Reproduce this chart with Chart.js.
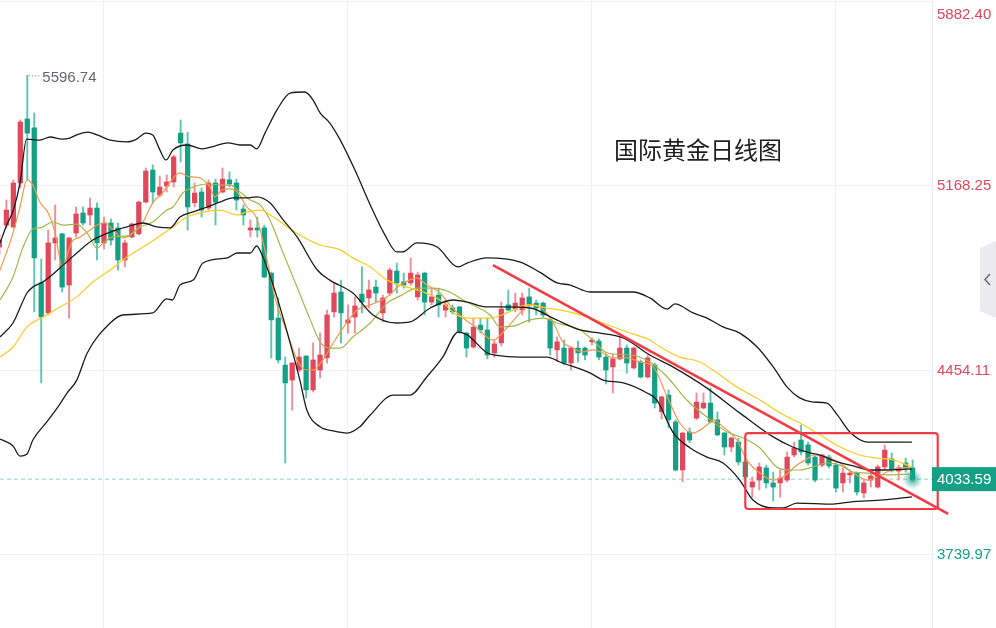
<!DOCTYPE html>
<html>
<head>
<meta charset="utf-8">
<script src="https://cdn.jsdelivr.net/npm/chart.js@4.4.0/dist/chart.umd.min.js"></script>
<style>
  html, body { margin: 0; padding: 0; background: #fff; }
  #wrap { position: relative; width: 996px; height: 628px; }
</style>
</head>
<body>
<div id="wrap"><canvas id="goldChart"></canvas></div>
<script>
// daily candles, one entry per trading day (index = position on the x axis)
const opens  = [4932,5017,5010,5180,5428,5393,4793,4677,4948,4983,4785,4986,5064,5056,5083,4948,5025,5006,4882,4971,
                4983,5106,5230,5133,5168,5184,5373,5331,5103,5145,5083,5180,5145,5192,5180,5079,4998,5006,5006,4831,
                4657,4475,4417,4456,4510,4379,4456,4503,4681,4758,4638,4661,4750,4735,4777,4677,4754,4839,4797,4793,
                4739,4831,4719,4746,4688,4696,4700,4599,4545,4630,4611,4522,4561,4708,4692,4688,4739,4715,4715,4650,
                4534,4541,4483,4541,4541,4565,4568,4506,4468,4499,4541,4464,4487,4429,4475,4294,4359,4255,4069,4216,
                4270,4309,4328,4263,4212,4158,4177,4100,4003,4030,4077,4019,4019,4030,4127,4185,4166,4119,4088,4119,
                4088,4019,4050,4057,3980,4030,4003,4081,4112,4065,4096,4077];
const highs  = [4979,5114,5192,5424,5596.74,5451,4886,4998,5095,4986,4970,5087,5087,5122,5103,5048,5041,5025,4959,5025,
                5110,5238,5250,5207,5211,5288,5424,5377,5180,5161,5192,5195,5238,5223,5195,5095,5037,5048,5017,4835,
                4735,4506,4485,4541,4512,4561,4599,4688,4793,4804,4708,4739,4855,4804,4804,4746,4851,4870,4831,4889,
                4835,4835,4773,4773,4727,4708,4703,4603,4657,4657,4657,4572,4719,4766,4754,4754,4773,4727,4719,4657,
                4584,4572,4545,4568,4545,4580,4576,4518,4518,4584,4553,4545,4495,4514,4483,4355,4379,4263,4216,4232,
                4367,4367,4386,4294,4215,4196,4193,4103,4042,4096,4088,4061,4069,4139,4177,4243,4177,4123,4130,4127,
                4096,4077,4069,4061,4030,4054,4088,4166,4135,4088,4115,4108];
const lows   = [4901,5006,5006,5161,5192,4681,4406,4669,4882,4758,4657,4971,5017,5017,4882,4924,4940,4843,4855,4967,
                4979,5103,5103,5126,5145,5164,5261,4998,5087,5048,5075,5017,5141,5164,5075,5017,4971,4971,4812,4502,
                4483,4096,4301,4450,4348,4371,4425,4483,4661,4561,4599,4599,4677,4696,4719,4642,4746,4754,4773,4785,
                4727,4669,4708,4661,4661,4673,4599,4506,4541,4599,4499,4506,4549,4685,4681,4669,4642,4669,4661,4514,
                4495,4476,4456,4487,4495,4553,4495,4402,4367,4495,4444,4460,4425,4425,4309,4266,4232,4065,4023,4174,
                4263,4305,4251,4201,4127,4139,4088,4030,3964,3992,3999,3949,3964,4023,4119,4127,4088,4023,4081,4077,
                3984,3984,4019,3972,3961,4003,3999,4069,4061,4030,4061,4030];
const closes = [4959,5075,5180,5416,5373,4890,4661,4948,4967,4777,4967,5060,5025,5083,4948,5025,4959,4882,4948,5021,
                5106,5226,5145,5164,5184,5281,5335,5087,5141,5075,5180,5106,5195,5176,5114,5056,5006,4998,4816,4650,
                4495,4406,4483,4506,4379,4495,4514,4669,4754,4677,4650,4704,4719,4766,4754,4735,4843,4793,4785,4831,
                4824,4719,4739,4708,4708,4681,4603,4541,4622,4611,4514,4557,4692,4688,4715,4735,4708,4696,4669,4541,
                4565,4483,4541,4522,4514,4572,4506,4456,4499,4541,4483,4541,4429,4503,4328,4352,4263,4069,4212,4185,
                4332,4328,4255,4205,4158,4193,4100,4042,4023,4081,4019,4003,4038,4119,4154,4139,4096,4030,4127,4085,
                3999,4057,4057,3984,4019,4046,4081,4146,4069,4077,4077,4033.59];

// indicator lines: [day index, price]
const bollUpper = [[0.1,4948],[1.05,5017],[2.0,5075],[2.96,5180],[3.9,5350],[5.8,5346],[7.3,5358],[9.0,5350],[10.1,5354],
  [11.1,5366],[12.7,5377],[14.0,5366],[15.9,5346],[18.3,5339],[19.7,5350],[21.0,5373],[22.0,5366],[22.9,5315],[23.9,5269],
  [24.9,5308],[26.9,5327],[29.1,5312],[30.9,5323],[32.8,5335],[34.5,5327],[36.0,5327],[36.9,5312],[38.1,5373],[39.8,5462],
  [41.7,5528],[43.8,5532],[45.0,5501],[46.0,5451],[47.4,5412],[48.9,5346],[51.0,5230],[53.2,5095],[55.3,4979],[57.0,4913],
  [57.8,4913],[59.9,4948],[62.8,4932],[65.8,4855],[67.1,4870],[69.9,4890],[74.7,4874],[77.5,4835],[80.0,4793],[81.9,4785],
  [84.7,4758],[86.2,4758],[90.9,4758],[93.3,4735],[95.8,4692],[96.9,4712],[99.5,4677],[101.5,4657],[103.8,4623],[106.2,4599],
  [108.7,4545],[111.0,4468],[113.0,4390],[114.8,4348],[116.7,4332],[118.7,4328],[120.2,4282],[122.0,4216],[124.5,4177],
  [126.3,4177],[130.9,4177]];
const bollMid = [[0.1,4584],[1.95,4638],[3.96,4754],[4.8,4777],[6.25,4797],[8.7,4851],[11.1,4909],[13.4,4959],[15.9,4990],
  [18.3,5010],[20.6,5025],[22.6,5010],[24.5,5006],[25.9,5048],[27.8,5068],[29.8,5087],[31.6,5106],[33.5,5122],[35.5,5122],
  [36.9,5126],[38.8,5103],[40.7,5037],[42.7,4971],[45.6,4843],[47.4,4804],[50.7,4754],[53.6,4669],[57.0,4638],[58.9,4642],
  [61.8,4696],[65.1,4727],[67.1,4719],[70.0,4700],[71.8,4700],[76.1,4696],[79.4,4657],[83.3,4611],[86.2,4599],[89.5,4580],
  [93.3,4514],[96.6,4468],[101.5,4386],[106.2,4290],[111.0,4197],[113.8,4158],[116.3,4135],[117.7,4127],[120.2,4100],
  [122.5,4085],[124.9,4069],[126.8,4069],[130.9,4073]];
const bollLower = [[0.1,4189],[1.95,4162],[2.96,4123],[3.96,4131],[4.8,4185],[6.8,4255],[8.3,4309],[9.7,4367],[11.1,4417],
  [12.6,4522],[15.9,4638],[17.7,4669],[22.0,4677],[24.0,4731],[24.8,4727],[25.9,4785],[27.8,4804],[29.2,4870],[32.7,4890],
  [34.1,4909],[36.0,4909],[36.9,4936],[37.8,4893],[39.8,4739],[41.7,4561],[43.1,4417],[44.1,4301],[46.0,4236],[47.9,4220],
  [49.9,4212],[51.7,4236],[53.2,4282],[56.5,4359],[58.9,4359],[61.3,4429],[63.6,4506],[65.8,4603],[67.1,4592],[70.0,4522],
  [71.1,4514],[74.7,4506],[78.6,4506],[80.4,4487],[84.7,4445],[86.6,4417],[89.5,4406],[92.9,4367],[94.3,4340],[96.6,4216],
  [99.1,4154],[101.5,4119],[103.8,4096],[106.2,4030],[108.1,3953],[111.0,3922],[112.4,3922],[114.4,3941],[119.6,3937],
  [122.0,3945],[126.8,3953],[130.9,3965]];
const ma5 = [[0.1,4843],[1.95,4986],[2.96,5087],[3.96,5192],[4.8,5172],[5.8,5106],[7.0,5064],[8.0,4986],[9.0,4855],
  [10.4,4952],[11.6,4971],[13.0,4998],[14.0,5017],[15.2,5025],[16.3,4998],[17.7,4967],[19.2,4986],[20.6,5029],[22.0,5103],
  [23.5,5145],[24.5,5184],[25.9,5219],[26.9,5207],[27.8,5203],[28.8,5199],[30.2,5164],[30.9,5126],[31.9,5153],[33.1,5157],
  [34.1,5145],[35.5,5087],[36.9,5044],[38.4,4882],[39.5,4739],[41.3,4599],[42.7,4495],[44.1,4456],[45.0,4456],[46.4,4495],
  [47.9,4561],[49.9,4642],[51.3,4688],[53.2,4708],[55.6,4739],[57.5,4785],[59.9,4812],[61.3,4785],[63.2,4754],[64.6,4708],
  [66.5,4657],[68.5,4619],[70.8,4572],[72.8,4619],[74.7,4677],[76.1,4708],[77.5,4700],[79.4,4642],[80.8,4565],[82.3,4541],
  [83.7,4526],[85.1,4534],[86.6,4522],[88.0,4503],[90.0,4503],[91.9,4487],[93.8,4468],[95.8,4352],[97.6,4251],[99.5,4212],
  [101.5,4243],[102.4,4263],[103.8,4236],[105.8,4185],[107.2,4108],[109.1,4057],[111.0,4030],[112.4,4042],[114.4,4088],
  [116.3,4119],[116.7,4127],[118.7,4119],[120.6,4096],[122.5,4057],[124.5,4030],[125.9,4042],[127.3,4061],[129.2,4077],
  [130.9,4077]];
const ma10 = [[0.1,4727],[1.95,4816],[3.4,4932],[4.8,5002],[5.8,5006],[7.7,5029],[9.1,5017],[11.1,5021],[12.6,4986],
  [14.0,4928],[14.9,4948],[16.3,4971],[18.3,4975],[20.2,5010],[22.0,5029],[24.0,5075],[24.9,5087],[26.3,5141],[27.8,5164],
  [29.8,5176],[32.1,5172],[33.1,5172],[34.5,5145],[36.0,5114],[37.4,5095],[38.8,5037],[40.7,4909],[42.7,4777],[44.6,4650],
  [46.0,4565],[47.4,4541],[48.9,4541],[50.7,4584],[53.2,4638],[55.6,4715],[57.5,4743],[59.9,4773],[62.2,4773],[64.6,4758],
  [66.5,4727],[68.5,4700],[70.4,4669],[71.8,4623],[73.7,4626],[76.1,4650],[78.0,4657],[80.0,4638],[83.3,4611],[85.1,4572],
  [87.2,4522],[90.5,4514],[93.3,4487],[95.8,4429],[98.6,4340],[101.5,4274],[104.4,4216],[106.7,4193],[109.1,4154],
  [111.5,4081],[113.4,4069],[114.8,4069],[116.7,4081],[118.7,4096],[120.6,4088],[122.5,4061],[124.5,4057],[126.8,4050],
  [130.9,4054]];
const ma30 = [[0.1,4506],[1.95,4545],[3.96,4623],[6.25,4661],[8.7,4700],[11.1,4739],[13.4,4797],[15.9,4843],[18.3,4893],
  [20.6,4932],[22.6,4967],[24.9,5010],[26.9,5048],[28.8,5064],[31.6,5075],[34.1,5056],[35.5,5068],[37.4,5075],[39.3,5048],
  [41.3,5010],[43.6,4971],[46.0,4940],[48.9,4921],[50.7,4890],[53.2,4855],[55.6,4804],[58.5,4777],[60.8,4758],[63.2,4727],
  [65.6,4669],[67.5,4657],[70.4,4657],[72.8,4677],[75.7,4708],[78.6,4696],[82.3,4677],[86.2,4642],[90.0,4603],[93.3,4572],
  [94.8,4545],[97.6,4506],[100.5,4487],[102.9,4445],[105.8,4390],[109.1,4340],[112.0,4290],[114.8,4251],[117.7,4205],
  [120.6,4158],[123.4,4127],[125.9,4115],[128.2,4108],[130.9,4081]];

const priceTicks = [3739.97, 4454.11, 5168.25, 5882.40];
const dateLines = [15, 50, 85, 120];
const lastPrice = 4033.59;
const peakIndex = 4, peakPrice = 5596.74;
const trendLine = [[70.8, 4862], [136.1, 3899]];
const focusBox = [107.0, 134.6, 4212, 3918]; // from day, to day, top price, bottom price
const chartTitle = '国际黄金日线图';

const UP = '#e2485b', UP_WICK = '#ee8f9b', DOWN = '#13a085', DOWN_WICK = '#62c5b1';
const isUp = i => closes[i] >= opens[i];

const bodies = opens.map((o, i) => ({ x: i, y: [o, closes[i]] }));
const wicks = opens.map((o, i) => ({ x: i, y: [lows[i], highs[i]] }));
const pts = arr => arr.map(p => ({ x: p[0], y: p[1] }));

function lineSet(data, color, width) {
  return {
    type: 'line', data: pts(data), borderColor: color, borderWidth: width,
    pointRadius: 0, fill: false, cubicInterpolationMode: 'monotone', order: 0
  };
}

const overlay = {
  id: 'overlay',
  beforeDatasetsDraw(chart) {
    const { ctx, chartArea, scales: { y } } = chart;
    const py = y.getPixelForValue(lastPrice);
    ctx.save();
    ctx.strokeStyle = '#86d6c8';
    ctx.lineWidth = 1;
    ctx.setLineDash([4, 3]);
    ctx.beginPath();
    ctx.moveTo(chartArea.left, py);
    ctx.lineTo(chartArea.right, py);
    ctx.stroke();
    ctx.restore();
  },
  afterDraw(chart) {
    const { ctx, scales: { x, y } } = chart;
    ctx.save();

    // glow on the live candle
    const gx = x.getPixelForValue(closes.length - 1), gy = y.getPixelForValue(lastPrice);
    const g = ctx.createRadialGradient(gx, gy, 0, gx, gy, 10);
    g.addColorStop(0, 'rgba(19,160,133,0.95)');
    g.addColorStop(0.45, 'rgba(19,160,133,0.45)');
    g.addColorStop(1, 'rgba(19,160,133,0)');
    ctx.fillStyle = g;
    ctx.beginPath(); ctx.arc(gx, gy, 10, 0, Math.PI * 2); ctx.fill();

    // trend line and focus box
    ctx.strokeStyle = '#f23b45';
    ctx.lineWidth = 2.6;
    ctx.beginPath();
    ctx.moveTo(x.getPixelForValue(trendLine[0][0]), y.getPixelForValue(trendLine[0][1]));
    ctx.lineTo(x.getPixelForValue(trendLine[1][0]), y.getPixelForValue(trendLine[1][1]));
    ctx.stroke();
    const bx0 = x.getPixelForValue(focusBox[0]), bx1 = x.getPixelForValue(focusBox[1]);
    const by0 = y.getPixelForValue(focusBox[2]), by1 = y.getPixelForValue(focusBox[3]);
    ctx.lineWidth = 2.2;
    ctx.beginPath();
    ctx.roundRect(bx0, by0, bx1 - bx0, by1 - by0, 3);
    ctx.stroke();

    // title
    ctx.fillStyle = '#1f1f1f';
    ctx.font = '24px "Noto Sans CJK SC", sans-serif';
    ctx.textAlign = 'left';
    ctx.textBaseline = 'middle';
    ctx.fillText(chartTitle, 614, 150);

    // peak marker
    const px = x.getPixelForValue(peakIndex), py = y.getPixelForValue(peakPrice);
    ctx.strokeStyle = '#777a86';
    ctx.lineWidth = 1;
    ctx.setLineDash([1, 2]);
    ctx.beginPath(); ctx.moveTo(px + 2, py + 0.5); ctx.lineTo(px + 14, py + 0.5); ctx.stroke();
    ctx.setLineDash([]);
    ctx.fillStyle = '#62656f';
    ctx.font = '15px "Liberation Sans", Arial, sans-serif';
    ctx.fillText(peakPrice.toFixed(2), px + 15, py + 3);

    // top price label (pinned inside the canvas)
    ctx.fillStyle = UP;
    ctx.fillText(priceTicks[3].toFixed(2), y.left + 5, 15);

    // last price badge
    ctx.fillStyle = '#13a085';
    ctx.fillRect(y.left, gy - 12, 996 - y.left, 24);
    ctx.fillStyle = '#ffffff';
    ctx.fillText(lastPrice.toFixed(2), y.left + 5, gy + 1);

    // collapse tab on the right edge
    ctx.fillStyle = '#ebebef';
    ctx.beginPath();
    ctx.moveTo(996, 241); ctx.lineTo(980, 248); ctx.lineTo(980, 311); ctx.lineTo(996, 318);
    ctx.closePath(); ctx.fill();
    ctx.strokeStyle = '#6b6d78';
    ctx.lineWidth = 1.5;
    ctx.beginPath(); ctx.moveTo(990, 274); ctx.lineTo(985, 279.5); ctx.lineTo(990, 285); ctx.stroke();
    ctx.restore();
  }
};

window.onload = function () {
  const ctx = document.getElementById('goldChart').getContext('2d');
  new Chart(ctx, {
    type: 'bar',
    data: {
      datasets: [
        lineSet(bollUpper, '#1c1c1c', 1.3),
        lineSet(bollMid, '#1c1c1c', 1.3),
        lineSet(bollLower, '#1c1c1c', 1.3),
        lineSet(ma30, '#fbcb22', 1.2),
        lineSet(ma10, '#a5b64c', 1.2),
        lineSet(ma5, '#f8974a', 1.2),
        {
          type: 'bar', data: bodies, grouped: false, barThickness: 4.6, minBarLength: 1,
          backgroundColor: c => isUp(c.dataIndex) ? UP : DOWN, borderWidth: 0, order: 1
        },
        {
          type: 'bar', data: wicks, grouped: false, barThickness: 1.3,
          backgroundColor: c => isUp(c.dataIndex) ? UP_WICK : DOWN_WICK, borderWidth: 0, order: 2
        }
      ]
    },
    options: {
      responsive: true,
      maintainAspectRatio: false,
      animation: false,
      layout: { padding: 0 },
      plugins: { legend: { display: false }, tooltip: { enabled: false } },
      events: [],
      scales: {
        x: {
          type: 'linear', min: 0.086, max: 133.78, offset: false,
          grid: { color: '#f1f1f4', drawTicks: false, offset: false },
          border: { display: false },
          ticks: { display: false },
          afterBuildTicks: s => { s.ticks = dateLines.map(v => ({ value: v })); },
          afterFit: s => { s.height = 0; s.paddingLeft = 0; s.paddingRight = 0; }
        },
        y: {
          type: 'linear', position: 'right', min: 3457.4, max: 5888.2,
          grid: { color: '#f1f1f4', drawTicks: false },
          border: { display: true, color: '#ececf0' },
          ticks: {
            padding: 5,
            font: { family: '"Liberation Sans", Arial, sans-serif', size: 15 },
            color: c => c.tick.value > lastPrice ? UP : DOWN,
            callback: v => v === priceTicks[3] ? '' : v.toFixed(2)
          },
          afterBuildTicks: s => { s.ticks = priceTicks.map(v => ({ value: v })); },
          afterFit: s => { s.width = 64; s.paddingTop = 0; s.paddingBottom = 0; }
        }
      }
    },
    plugins: [overlay]
  });
};
</script>
</body>
</html>
